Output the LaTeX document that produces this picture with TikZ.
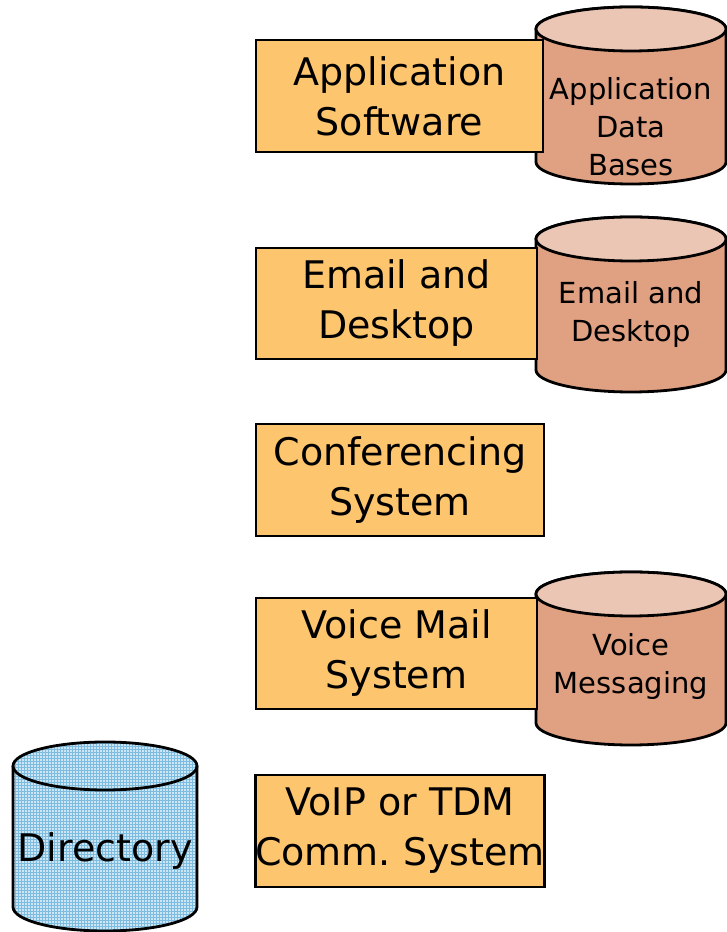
\documentclass[tikz,border=0pt]{standalone}
\usepackage{fontspec}
\setmainfont{DejaVu Sans}
\usetikzlibrary{patterns}
\definecolor{boxorange}{RGB}{252,197,110}
\definecolor{dbbody}{RGB}{224,160,130}
\definecolor{dbtop}{RGB}{236,198,180}
\definecolor{dirblue}{RGB}{205,230,245}
\definecolor{dirgrid}{RGB}{125,188,222}

\begin{document}
\begin{tikzpicture}[x=1pt,y=1pt,
    sysbox/.style={draw,line width=2.8pt,fill=boxorange,minimum width=#1,minimum height=112pt,inner sep=0pt,align=center,font=\fontsize{38}{50}\selectfont},
    sysbox/.default=288pt,
    dbtext/.style={align=center,font=\fontsize{29}{38}\selectfont}]
        \useasboundingbox (0,0) rectangle (727,932);
        % data base cylinders
        \foreach \cx/\yt/\yb in {631/903/770,631/693/562,631/338/209}{
          \filldraw[line width=2.8pt,fill=dbbody] (\cx-95,\yt) -- (\cx-95,\yb) arc[start angle=180,end angle=360,x radius=95,y radius=22] -- (\cx+95,\yt) arc[start angle=0,end angle=180,x radius=95,y radius=22] -- cycle;
          \filldraw[line width=2.8pt,fill=dbtop] (\cx,\yt) ellipse (95 and 22);
        }
        % directory cylinder
        \fill[dirblue] (13,166) -- (13,25) arc[start angle=180,end angle=360,x radius=92,y radius=24] -- (197,166) arc[start angle=0,end angle=180,x radius=92,y radius=24] -- cycle;
        \fill[pattern=grid,pattern color=dirgrid] (13,166) -- (13,25) arc[start angle=180,end angle=360,x radius=92,y radius=24] -- (197,166) arc[start angle=0,end angle=180,x radius=92,y radius=24] -- cycle;
        \draw[line width=2.8pt] (13,166) -- (13,25) arc[start angle=180,end angle=360,x radius=92,y radius=24] -- (197,166);
        \draw[line width=2.8pt] (105,166) ellipse (92 and 24);
        \node[dbtext] (appdb) at (631,805) {Application\\Data\\Bases};
        \node[dbtext] (maildb) at (631,617) {Email and\\Desktop};
        \node[dbtext] (voicedb) at (631,265) {Voice\\Messaging};
        \node[font=\fontsize{38}{50}\selectfont] (dir) at (105,81) {Directory};
        % systems
        \node[sysbox=287pt] (app) at (399.5,836) {Application\\Software};
        \node[sysbox=281pt,minimum height=111pt] (mail) at (396.5,628.5) {Email and\\Desktop};
        \node[sysbox] (conf) at (400,452) {Conferencing\\System};
        \node[sysbox=281pt,minimum height=111pt] (vmail) at (396.5,278.5) {Voice Mail\\System};
        \node[sysbox] (comm) at (400,101) {VoIP or TDM\\Comm.\ System};
      \end{tikzpicture}
\end{document}
